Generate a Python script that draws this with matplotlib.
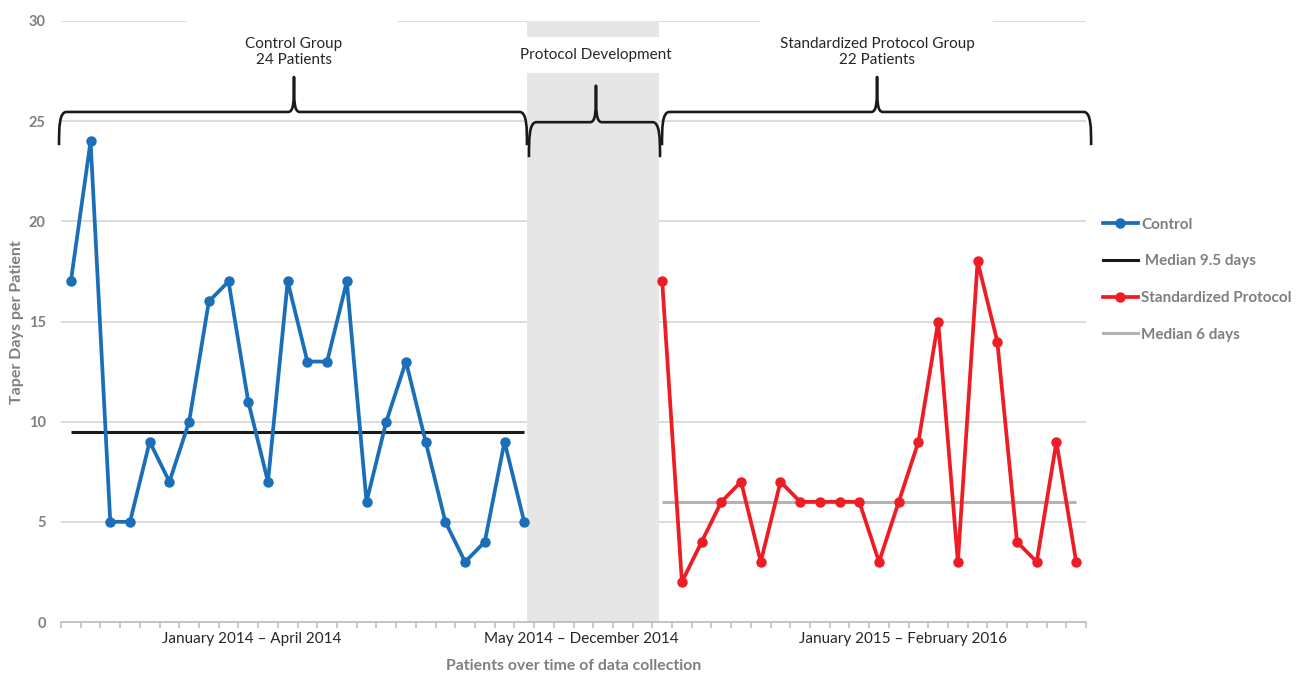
import numpy as np
import matplotlib
matplotlib.use("Agg")
import matplotlib.pyplot as plt
from matplotlib.path import Path
from matplotlib.patches import PathPatch, Rectangle
from matplotlib.lines import Line2D

plt.rcParams['font.family'] = ['Lato', 'DejaVu Sans']

# ---------------- data ----------------
control_days = [17, 24, 5, 5, 9, 7, 10, 16, 17, 11, 7, 17, 13, 13, 17, 6, 10, 13, 9, 5, 3, 4, 9, 5]
protocol_days = [17, 2, 4, 6, 7, 3, 7, 6, 6, 6, 6, 3, 6, 9, 15, 3, 18, 14, 4, 3, 9, 3]
gap_slots = 6
control_median = 9.5
protocol_median = 6
period_labels = ["January 2014 \u2013 April 2014", "May 2014 \u2013 December 2014",
                 "January 2015 \u2013 February 2016"]
group_labels = ["Control Group\n24 Patients", "Protocol Development",
                "Standardized Protocol Group\n22 Patients"]
legend_labels = ["Control", " Median 9.5 days", "Standardized Protocol", "Median 6 days"]
y_ticks = [0, 5, 10, 15, 20, 25, 30]

# ---------------- layout ----------------
W, H = 1299, 673
fig = plt.figure(figsize=(W / 100, H / 100), dpi=100)
ax = fig.add_axes([61 / W, (H - 622) / H, (1086 - 61) / W, (622 - 21) / H])

n_c = len(control_days)
n_p = len(protocol_days)
n_total = n_c + gap_slots + n_p
x_c = np.arange(n_c)
x_p = np.arange(n_p) + n_c + gap_slots

BLUE = "#1a6fb8"
RED = "#ee1c24"
GRAYTXT = "#7f7f7f"

ax.set_xlim(-0.5, n_total - 0.5)
ax.set_ylim(0, 30)

# grid
for yv in y_ticks[1:]:
    ax.axhline(yv, color="#d9d9d9", lw=1.3, zorder=0)

# protocol development band (with white gap for label)
band_x0, band_x1 = n_c - 0.86, n_c + gap_slots - 0.15
ax.add_patch(Rectangle((band_x0, 0), band_x1 - band_x0, 27.41, color="#e6e6e6", lw=0, zorder=0.5))
ax.add_patch(Rectangle((band_x0, 29.2), band_x1 - band_x0, 0.8, color="#e6e6e6", lw=0, zorder=0.5))

# white boxes behind group labels (hide top gridline)
ax.add_patch(Rectangle((5.89, 27.5), 16.6 - 5.89, 3.0, color="white", lw=0, zorder=0.8, clip_on=False))
ax.add_patch(Rectangle((34.96, 27.5), 46.79 - 34.96, 3.0, color="white", lw=0, zorder=0.8, clip_on=False))

# medians
ax.plot([x_c[0], x_c[-1]], [control_median] * 2, color="#1a1a1a", lw=2.2, zorder=2, solid_capstyle="butt")
ax.plot([x_p[0], x_p[-1]], [protocol_median] * 2, color="#b3b3b3", lw=2.2, zorder=2, solid_capstyle="butt")

# series
ax.plot(x_c, control_days, color=BLUE, lw=2.7, marker="o", ms=6.5, zorder=3)
ax.plot(x_p, protocol_days, color=RED, lw=2.7, marker="o", ms=6.5, zorder=3)


def brace(x0, x1, xm, yb, yh, yt, r=0.38):
    verts = [
        (x0, yb), (x0, yb + 0.5 * (yh - yb)), (x0, yh), (x0 + r, yh),
        (xm - 0.3, yh),
        (xm, yh), (xm, yh + 0.3 * (yt - yh)), (xm, yt),
        (xm, yh + 0.3 * (yt - yh)), (xm, yh), (xm + 0.3, yh),
        (x1 - r, yh),
        (x1, yh), (x1, yb + 0.5 * (yh - yb)), (x1, yb),
    ]
    codes = [Path.MOVETO, Path.CURVE4, Path.CURVE4, Path.CURVE4,
             Path.LINETO,
             Path.CURVE4, Path.CURVE4, Path.CURVE4,
             Path.CURVE4, Path.CURVE4, Path.CURVE4,
             Path.LINETO,
             Path.CURVE4, Path.CURVE4, Path.CURVE4]
    ax.add_patch(PathPatch(Path(verts, codes), fill=False, ec="#1a1a1a", lw=1.9,
                           clip_on=False, zorder=4, capstyle="butt", joinstyle="round"))


brace(-0.6, 23.14, 11.32, 23.8, 25.46, 27.2)
brace(23.24, 29.89, 26.64, 23.2, 24.95, 26.76)
brace(29.99, 51.76, 40.9, 23.8, 25.46, 27.2)

# group labels
ax.text(11.32, 28.45, group_labels[0], ha="center", va="center", fontsize=11,
        color="#262626", linespacing=1.2, zorder=5)
ax.text(26.64, 28.3, group_labels[1], ha="center", va="center", fontsize=11,
        color="#262626", zorder=5)
ax.text(40.9, 28.45, group_labels[2], ha="center", va="center", fontsize=11,
        color="#262626", linespacing=1.2, zorder=5)

# axes styling
for s in ["left", "right", "top"]:
    ax.spines[s].set_visible(False)
ax.spines["bottom"].set_color("#bfbfbf")
ax.spines["bottom"].set_linewidth(1.3)

ax.set_yticks(y_ticks)
ax.set_yticklabels([str(v) for v in y_ticks], fontsize=10.5, fontweight="bold", color=GRAYTXT)
ax.tick_params(axis="y", length=0, pad=11)

period_pos = [9.19, 25.9, 42.2]
ax.set_xticks(period_pos)
ax.set_xticklabels(period_labels, fontsize=11, color="#262626")
ax.set_xticks(np.arange(-0.5, n_total, 1.0), minor=True)
ax.tick_params(axis="x", which="major", length=0, pad=7)
ax.tick_params(axis="x", which="minor", length=4, color="#bfbfbf", width=1.2)

fig.text(573.5 / W, 1 - 666 / H, "Patients over time of data collection", ha="center", va="center",
         fontsize=11.4, fontweight="bold", color=GRAYTXT)
fig.text(17 / W, 1 - 322 / H, "Taper Days per Patient", ha="center", va="center", rotation=90,
         fontsize=11.5, fontweight="bold", color=GRAYTXT)

# legend
handles = [
    Line2D([], [], color=BLUE, lw=2.7, marker="o", ms=6.5),
    Line2D([], [], color="#1a1a1a", lw=2.2),
    Line2D([], [], color=RED, lw=2.7, marker="o", ms=6.5),
    Line2D([], [], color="#b3b3b3", lw=2.2),
]
leg = fig.legend(handles, legend_labels, loc="upper left", bbox_to_anchor=(1089 / W, 1 - 204 / H),
                 frameon=False, fontsize=11, handlelength=2.3, handletextpad=0.2,
                 labelspacing=1.48, numpoints=1)
for t in leg.get_texts():
    t.set_color(GRAYTXT)
    t.set_fontweight("bold")

fig.savefig("out.png", dpi=100)
